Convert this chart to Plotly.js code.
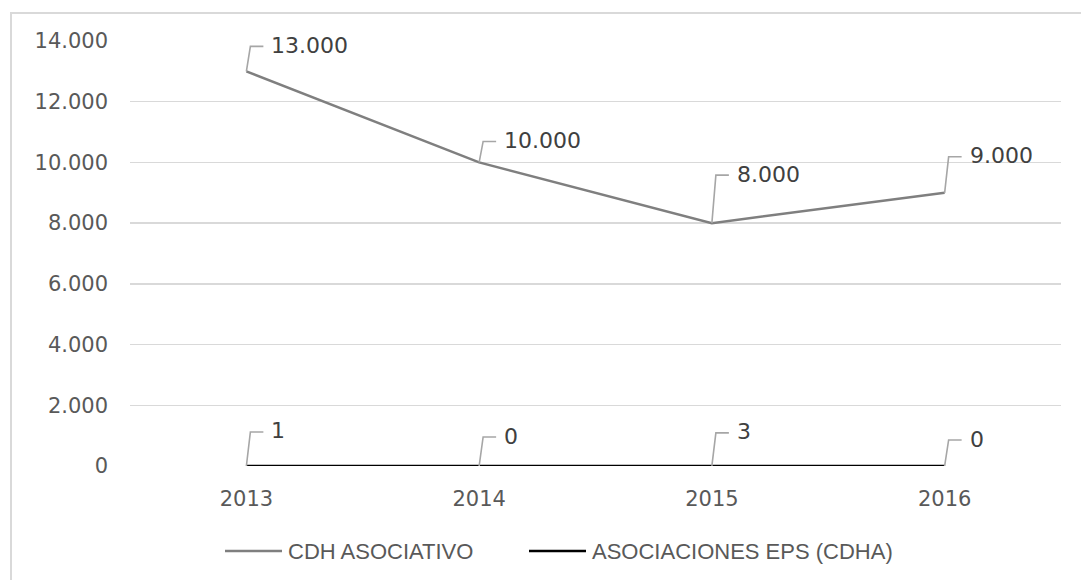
<!DOCTYPE html>
<html>
<head>
<meta charset="utf-8">
<script src="https://cdn.plot.ly/plotly-3.0.1.min.js"></script>
<style>
  html, body { margin: 0; padding: 0; overflow: hidden; background: #fff; }
  #chart { position: absolute; left: 0; top: 0; width: 1081px; height: 580px; }
  #frame { position: absolute; left: 10px; top: 12px; width: 1200px; height: 700px;
           border: 2px solid #d9d9d9; pointer-events: none; }
</style>
</head>
<body>
<div id="chart"></div>
<div id="frame"></div>
<script>
// ---- data ----
const years = ['2013', '2014', '2015', '2016'];
const cdhAsociativo = [13000, 10000, 8000, 9000];
const asociacionesEps = [1, 0, 3, 0];
const seriesNames = ['CDH ASOCIATIVO', 'ASOCIACIONES EPS (CDHA)'];
const yTickValues = [0, 2000, 4000, 6000, 8000, 10000, 12000, 14000];

// ---- callout placement (pixels above each point) ----
const calloutLiftCdh = [25, 21, 48, 36];
const calloutLiftEps = [34, 29, 33, 26];

function fmt(v) { return String(v).replace(/\B(?=(\d{3})+(?!\d))/g, '.'); }

const xIdx = years.map((_, i) => i);
const txt = '#595959';
const tickFont = { family: 'DejaVu Sans, Verdana, sans-serif', size: 21, color: txt };

const traces = [
  { x: xIdx, y: cdhAsociativo, name: seriesNames[0], type: 'scatter', mode: 'lines',
    line: { color: '#7f7f7f', width: 2.5 }, hoverinfo: 'skip', showlegend: false },
  { x: xIdx, y: asociacionesEps, name: seriesNames[1], type: 'scatter', mode: 'lines',
    line: { color: '#000000', width: 2.5 }, hoverinfo: 'skip', showlegend: false, cliponaxis: false }
];

const shapes = [];
const annotations = [];
function addCallouts(vals, lifts) {
  vals.forEach((v, i) => {
    const L = lifts[i];
    shapes.push({
      type: 'path', xref: 'x', yref: 'y', xsizemode: 'pixel', ysizemode: 'pixel',
      xanchor: xIdx[i], yanchor: v,
      path: `M0,0 L4,${L} L17,${L}`,
      line: { color: '#a6a6a6', width: 1.6 }
    });
    annotations.push({
      x: xIdx[i], y: v, xref: 'x', yref: 'y', text: fmt(v), showarrow: false,
      xanchor: 'left', yanchor: 'middle', xshift: 23, yshift: L + 1,
      font: { family: 'DejaVu Sans, Verdana, sans-serif', size: 22, color: '#404040' }
    });
  });
}
addCallouts(cdhAsociativo, calloutLiftCdh);
addCallouts(asociacionesEps, calloutLiftEps);

// manual legend
const legendItems = [
  { name: seriesNames[0], color: '#7f7f7f', x0: 225 },
  { name: seriesNames[1], color: '#000000', x0: 529 }
];
const W = 1081, H = 580, mL = 130, mR = 20, mT = 41, mB = 114;
const pw = W - mL - mR, ph = H - mT - mB;
const px2x = p => (p - mL) / pw;
const py2y = p => (H - mB - p) / ph;
legendItems.forEach(it => {
  shapes.push({ type: 'line', xref: 'paper', yref: 'paper',
    x0: px2x(it.x0), x1: px2x(it.x0 + 57), y0: py2y(551), y1: py2y(551),
    line: { color: it.color, width: 2.5 } });
  annotations.push({ xref: 'paper', yref: 'paper', x: px2x(it.x0 + 61), y: py2y(551),
    xanchor: 'left', yanchor: 'middle', showarrow: false, text: it.name,
    font: { family: 'Liberation Sans, Arial, sans-serif', size: 22, color: txt } });
});

const layout = {
  width: W, height: H,
  margin: { l: mL, r: mR, t: mT, b: mB },
  paper_bgcolor: 'rgba(0,0,0,0)', plot_bgcolor: '#ffffff',
  separators: ',.',
  showlegend: false,
  xaxis: {
    type: 'linear', range: [-0.5, years.length - 0.5],
    tickvals: xIdx, ticktext: years, ticks: '', showgrid: false, zeroline: false,
    showline: false, tickfont: tickFont, ticklabelstandoff: 18, fixedrange: true
  },
  yaxis: {
    range: [0, 14000], tickvals: yTickValues, tickformat: ',d', ticks: '',
    showgrid: true, gridcolor: '#d9d9d9', gridwidth: 1.5, zeroline: false,
    showline: false, tickfont: tickFont, ticklabelstandoff: 21, fixedrange: true
  },
  shapes: shapes,
  annotations: annotations
};

Plotly.newPlot('chart', traces, layout, { staticPlot: true, displayModeBar: false });
</script>
</body>
</html>
